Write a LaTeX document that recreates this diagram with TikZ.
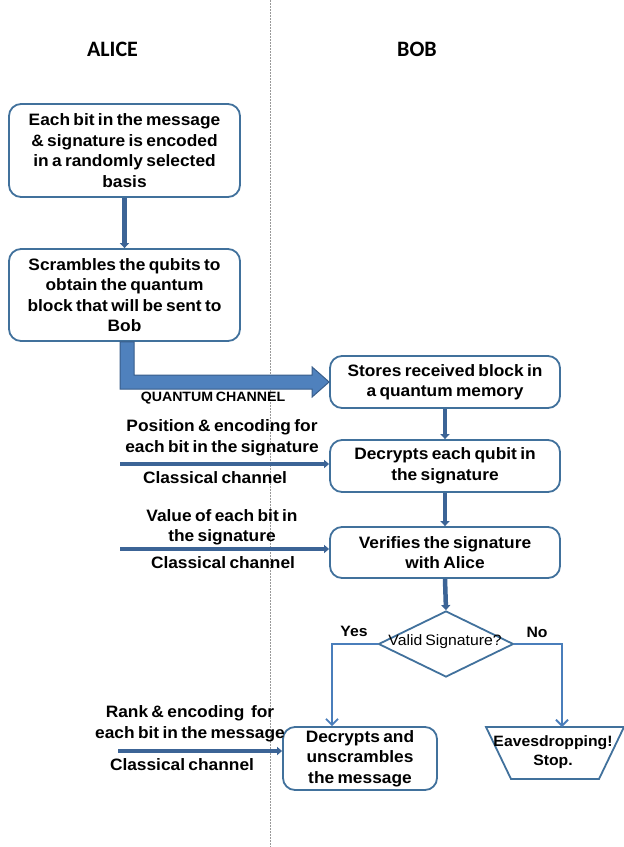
\documentclass[tikz,border=0pt]{standalone}
\usepackage{fontspec}
\setmainfont{Liberation Sans}[FakeStretch=1.05,WordSpace=0.7]
\newfontfamily\calibri{Carlito}
\usetikzlibrary{arrows.meta,shapes.geometric,calc}
\definecolor{boxc}{RGB}{65,113,156}
\definecolor{arrc}{RGB}{60,100,150}
\definecolor{qfill}{RGB}{79,129,189}
\definecolor{qdraw}{RGB}{56,93,138}
\definecolor{ync}{RGB}{74,126,187}
\begin{document}
\begin{tikzpicture}[x=1pt,y=-1pt,
  box/.style={draw=boxc, line width=1.8pt, rounded corners=12pt, fill=white, align=center,
    font=\bfseries\fontsize{16.5}{20.5}\selectfont, inner sep=0pt},
  lbl/.style={align=center, font=\bfseries\fontsize{16.5}{20.5}\selectfont, inner sep=0pt},
  flow/.style={draw=arrc, line width=4.5pt, -{Triangle[length=5pt,width=9pt]}},
  clch/.style={draw=arrc, line width=3.5pt, -{Triangle[length=5pt,width=8pt]}},
  yn/.style={draw=ync, line width=1.8pt, -{Straight Barb[length=6pt,width=12pt]}},
  head/.style={font=\calibri\bfseries\fontsize{22}{26}\selectfont, inner sep=0pt}]
\useasboundingbox (0,0) rectangle (624,847);
\fill[white] (0,0) rectangle (624,847);
% separator
\draw[gray!80, line width=0.6pt, dash pattern=on 1.5pt off 1.5pt] (270,0) -- (270,847);
% headings
\node[head] (alice) at (112.5,49) {ALICE};
\node[head] (bob) at (417,49) {BOB};
% boxes
\node[box, minimum width=231pt, minimum height=93pt] (b1) at (124.5,150.5)
  {Each bit in the message\\\& signature is encoded\\in a randomly selected\\basis};
\node[box, minimum width=231pt, minimum height=92pt] (b2) at (124.5,295)
  {Scrambles the qubits to\\obtain the quantum\\block that will be sent to\\Bob};
\node[box, minimum width=230pt, minimum height=52pt] (b3) at (445,382)
  {Stores received block in\\a quantum memory};
\node[box, minimum width=230pt, minimum height=52pt] (b4) at (445,466)
  {Decrypts each qubit in\\the signature};
\node[box, minimum width=230pt, minimum height=51pt] (b5) at (445,552.5)
  {Verifies the signature\\with Alice};
\node[diamond, draw=boxc, line width=1.8pt, minimum width=135pt, minimum height=66pt,
  shape aspect=2.05, inner sep=0pt] (dia) at (446,644) {};
\node[font=\fontsize{15}{17}\selectfont, inner sep=0pt] (dlab) at (445,642) {Valid Signature?};
\node[box, minimum width=154pt, minimum height=63pt] (b6) at (360,758.5)
  {Decrypts and\\unscrambles\\the message};
% trapezoid (wide top, narrow bottom)
\coordinate (eavn) at (562,727);
\draw[draw=boxc, line width=1.8pt, line join=miter] (486,727) -- (624,727) -- (599,779) -- (511,779) -- cycle;
\node[lbl, font=\bfseries\fontsize{15}{19}\selectfont] (eavt) at (553,752) {Eavesdropping!\\Stop.};
% flow arrows
\draw[flow] (b1.south) -- (b2.north);
\draw[flow] (b3.south) -- (b4.north);
\draw[flow] (b4.south) -- (b5.north);
\draw[flow] (b5.south) -- (dia.north);
% quantum channel
\coordinate (qtop) at ([xshift=2.5pt]b2.south);
\filldraw[fill=qfill, draw=qdraw, line width=1pt]
  ([xshift=-7pt]qtop) |- ([xshift=-17pt,yshift=-7pt]b3.west)
  -- ([xshift=-17pt,yshift=-15pt]b3.west) -- (b3.west)
  -- ([xshift=-17pt,yshift=15pt]b3.west) -- ([xshift=-17pt,yshift=7pt]b3.west)
  -| ([xshift=7pt]qtop) -- cycle;
\node[font=\bfseries\fontsize{13.5}{16}\selectfont, inner sep=0pt] (qc) at (213,398) {QUANTUM CHANNEL};
% classical channels
\coordinate (c1) at (120,464);
\coordinate (c2) at (120,549);
\coordinate (c3) at (118,751);
\draw[clch] (c1) -- (c1 -| b4.west);
\draw[clch] (c2) -- (c2 -| b5.west);
\draw[clch] (c3) -- (c3 -| b6.west);
\node[lbl] (t1) at (222,438) {Position \& encoding for\\each bit in the signature};
\node[lbl] (cc1) at (215,478) {Classical channel};
\node[lbl] (t2) at (222,527.5) {Value of each bit in\\the signature};
\node[lbl] (cc2) at (223,563) {Classical channel};
\node[lbl] (t3) at (190,724) {Rank \& encoding\ \ for\\each bit in the message};
\node[lbl] (cc3) at (182,765) {Classical channel};
% yes / no
\draw[yn] (dia.west) -| ([xshift=-28pt]b6.north);
\draw[yn] (dia.east) -| (eavn);
\node[lbl, font=\bfseries\fontsize{15}{18}\selectfont] (yes) at (354,631) {Yes};
\node[lbl, font=\bfseries\fontsize{15}{18}\selectfont] (no) at (537,632) {No};
\end{tikzpicture}
\end{document}
